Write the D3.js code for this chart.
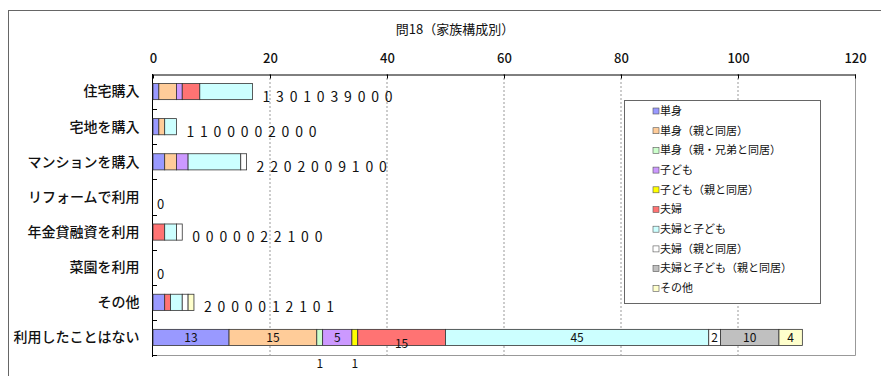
<!DOCTYPE html>
<html lang="ja">
<head>
<meta charset="UTF-8">
<title>問18（家族構成別）</title>
<script src="https://d3js.org/d3.v7.min.js"></script>
<style>
    body { margin: 0; background: #fff; }
    svg text { font-family: "Noto Sans CJK JP", "Noto Sans", sans-serif; fill: #111; }
    .cat-axis text { font-size: 14px; font-weight: 500; }
    .x-axis text { font-size: 13px; font-weight: 500; }
    .x-axis path { stroke: #000; }
    .x-axis line { stroke: #000; }
</style>
</head>
<body>
<div id="chart"></div>
<script>
    // categories (rows, top to bottom)
    const categories = ["住宅購入", "宅地を購入", "マンションを購入", "リフォームで利用",
        "年金貸融資を利用", "菜園を利用", "その他", "利用したことはない"];

    // series (family types)
    const seriesNames = ["単身", "単身（親と同居）", "単身（親・兄弟と同居）", "子ども", "子ども（親と同居）",
        "夫婦", "夫婦と子ども", "夫婦（親と同居）", "夫婦と子ども（親と同居）", "その他"];

    // values per series, same order as categories
    const tanshin        = [1, 1, 2, 0, 0, 0, 2, 13];
    const tanshinOya     = [3, 1, 2, 0, 0, 0, 0, 15];
    const tanshinKyodai  = [0, 0, 0, 0, 0, 0, 0, 1];
    const kodomo         = [1, 0, 2, 0, 0, 0, 0, 5];
    const kodomoOya      = [0, 0, 0, 0, 0, 0, 0, 1];
    const fufu           = [3, 0, 0, 0, 2, 0, 1, 15];
    const fufuKodomo     = [9, 2, 9, 0, 2, 0, 2, 45];
    const fufuOya        = [0, 0, 1, 0, 1, 0, 1, 2];
    const fufuKodomoOya  = [0, 0, 0, 0, 0, 0, 0, 10];
    const sonota         = [0, 0, 0, 0, 0, 0, 1, 4];

    const xTicks = [0, 20, 40, 60, 80, 100, 120];

    const colors = ["#9999ff", "#ffcc99", "#ccffcc", "#cc99ff", "#ffff00",
        "#ff7373", "#ccffff", "#ffffff", "#c0c0c0", "#ffffcc"];

    const seriesValues = [tanshin, tanshinOya, tanshinKyodai, kodomo, kodomoOya,
        fufu, fufuKodomo, fufuOya, fufuKodomoOya, sonota];

    // table for d3.stack
    const table = categories.map((c, i) => {
        const row = { category: c };
        seriesNames.forEach((s, j) => { row[s] = seriesValues[j][i]; });
        return row;
    });

    const W = 881, H = 376;
    const svg = d3.select("#chart").append("svg").attr("width", W).attr("height", H);

    // outer chart border
    svg.append("rect")
        .attr("x", 8.5).attr("y", 10.5)
        .attr("width", 900).attr("height", 400)
        .attr("fill", "none").attr("stroke", "#666");

    const plot = { left: 153, right: 855, top: 74, bottom: 355 };

    const x = d3.scaleLinear().domain([0, 120]).range([plot.left, plot.right]);
    const y = d3.scaleBand().domain(categories).range([plot.top, plot.bottom]).padding(0);
    const barH = y.bandwidth() * 0.46;
    const barY = c => y(c) + (y.bandwidth() - barH) / 2;

    // title
    svg.append("text")
        .attr("x", 455).attr("y", 34)
        .attr("text-anchor", "middle")
        .style("font-size", "13px")
        .text("問18（家族構成別）");

    // grid lines
    svg.append("g").selectAll("line")
        .data(xTicks.filter(t => t > 0 && t < 120))
        .join("line")
        .attr("x1", d => x(d)).attr("x2", d => x(d))
        .attr("y1", plot.top).attr("y2", plot.bottom)
        .attr("stroke", "#999").attr("stroke-dasharray", "2,2");

    // plot area right / bottom border
    svg.append("path")
        .attr("d", `M${plot.right + 0.5},${plot.top} V${plot.bottom + 0.5} H${plot.left}`)
        .attr("fill", "none").attr("stroke", "#999");

    // top value axis
    svg.append("g")
        .attr("class", "x-axis")
        .attr("transform", `translate(0,${plot.top + 0.5})`)
        .call(d3.axisTop(x).tickValues(xTicks).tickSizeInner(-4).tickSizeOuter(0).tickPadding(12));

    // left category axis
    const catAxis = svg.append("g")
        .attr("class", "cat-axis")
        .attr("transform", `translate(${plot.left - 0.5},0)`)
        .call(d3.axisLeft(y).tickSize(0).tickPadding(13));
    catAxis.select(".domain").remove();
    catAxis.selectAll("text").attr("dy", "0.35em");

    svg.append("line")
        .attr("x1", plot.left - 0.5).attr("x2", plot.left - 0.5)
        .attr("y1", plot.top).attr("y2", plot.bottom + 2)
        .attr("stroke", "#000");
    svg.append("g").selectAll("line")
        .data(categories.slice(1).concat(["__end"]))
        .join("line")
        .attr("x1", plot.left).attr("x2", plot.left + 4)
        .attr("y1", d => d === "__end" ? plot.bottom + 0.5 : Math.round(y(d)) + 0.5)
        .attr("y2", d => d === "__end" ? plot.bottom + 0.5 : Math.round(y(d)) + 0.5)
        .attr("stroke", "#000");

    // stacked bars
    const stacked = d3.stack().keys(seriesNames)(table);

    const layers = svg.append("g").selectAll("g")
        .data(stacked)
        .join("g")
        .attr("fill", (d, i) => colors[i]);

    layers.selectAll("rect")
        .data(d => d.filter(p => p[1] - p[0] > 0))
        .join("rect")
        .attr("x", d => x(d[0]))
        .attr("y", d => barY(d.data.category))
        .attr("width", d => x(d[1]) - x(d[0]))
        .attr("height", barH)
        .attr("stroke", "#333")
        .attr("stroke-width", 0.8);

    // data labels
    const lastCat = categories[categories.length - 1];
    const labels = svg.append("g");

    categories.forEach((c, i) => {
        const total = d3.sum(seriesValues, s => s[i]);
        const cy = y(c) + y.bandwidth() / 2;
        if (c === lastCat) return;
        if (total === 0) {
            labels.append("text")
                .attr("x", x(0) + 4).attr("y", cy + 12)
                .style("font-size", "13px")
                .text("0");
            return;
        }
        labels.selectAll(null)
            .data(seriesValues.map(s => s[i]))
            .join("text")
            .attr("x", (d, j) => x(total) + 10 + j * 13.6)
            .attr("y", cy + 10)
            .style("font-size", "14px")
            .text(d => d);
    });

    // labels of the last row (inside segments, tiny ones below the axis)
    const lastIdx = categories.length - 1;
    stacked.forEach((layer, j) => {
        const p = layer[lastIdx];
        const v = p[1] - p[0];
        const cx = (x(p[0]) + x(p[1])) / 2;
        const cy = y(lastCat) + y.bandwidth() / 2;
        let ty = cy + 4.5;
        if (v === 1) ty = plot.bottom + 13;
        else if (seriesNames[j] === "夫婦") ty = cy + 11;
        labels.append("text")
            .attr("x", cx).attr("y", ty)
            .attr("text-anchor", "middle")
            .style("font-size", "12px")
            .text(v);
    });

    // legend
    const legend = svg.append("g").attr("transform", "translate(624,100)");
    legend.append("rect")
        .attr("x", 0.5).attr("y", 0.5)
        .attr("width", 196).attr("height", 203)
        .attr("fill", "#fff").attr("stroke", "#666");
    const items = legend.selectAll("g.item")
        .data(seriesNames)
        .join("g")
        .attr("class", "item")
        .attr("transform", (d, i) => `translate(29,${11 + i * 19.7})`);
    items.append("rect")
        .attr("x", 0).attr("y", -3)
        .attr("width", 6).attr("height", 6)
        .attr("fill", (d, i) => colors[i])
        .attr("stroke", "#555").attr("stroke-width", 0.6);
    items.append("text")
        .attr("x", 7).attr("y", 0)
        .attr("dy", "0.35em")
        .style("font-size", "11px")
        .text(d => d);
</script>
</body>
</html>
